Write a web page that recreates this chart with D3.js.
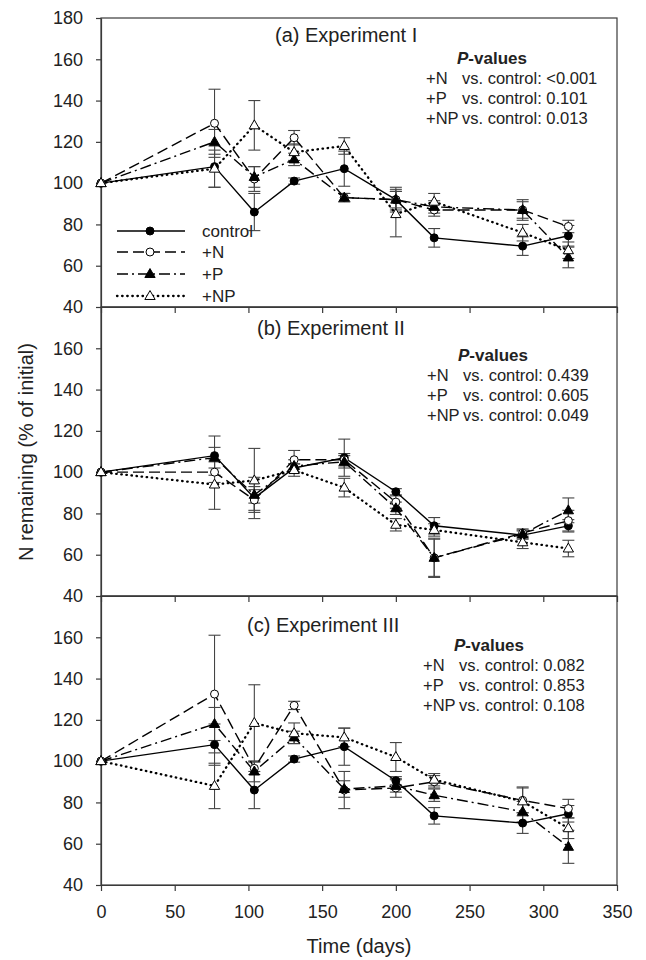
<!DOCTYPE html>
<html><head><meta charset="utf-8">
<script src="https://cdn.jsdelivr.net/npm/d3@7"></script>
<style>body{margin:0;background:#fff}svg{display:block;font-family:"Liberation Sans",Arial,sans-serif}</style>
</head><body><svg id="c" width="646" height="960"></svg>
<script>
// ---------------- data ----------------
const days = [0, 77, 104, 131, 165, 200, 226, 286, 317];
const seriesNames = ["control", "+N", "+P", "+NP"];
const xTicks = [0, 50, 100, 150, 200, 250, 300, 350];
const yTicks = [40, 60, 80, 100, 120, 140, 160, 180];
const panelTitles = ["(a) Experiment I", "(b) Experiment II", "(c) Experiment III"];

// Experiment I
const expI_control = [100, 108, 86, 101, 107, 92, 73.5, 69.5, 74.5];
const expI_N       = [100, 129, 102, 122, 93, 92, 87, 87, 79];
const expI_P       = [100, 120, 103, 111.5, 93, 92, 88.5, 87, 64];
const expI_NP      = [100, 107, 128, 115, 118, 85, 91, 76, 67.5];
const expI_control_err = [0, 10, 9, 1.5, 8.5, 6, 4.5, 4.5, 5];
const expI_N_err       = [0, 16.5, 6, 3.5, 2, 5, 3, 5, 3];
const expI_P_err       = [0, 6, 5, 3, 2, 4, 3, 4, 5];
const expI_NP_err      = [0, 9, 12, 4, 4, 11, 4, 4, 4];

// Experiment II
const expII_control = [100, 108, 87.5, 102, 107, 90.5, 74, 69.5, 74];
const expII_N       = [100, 100, 86.5, 106, 106, 85.5, 58.5, 70.5, 76.5];
const expII_P       = [100, 107, 89, 103, 105, 82.5, 58.5, 70, 81.5];
const expII_NP      = [100, 94, 96, 101, 92.5, 74.5, 72, 66, 63];
const expII_control_err = [0, 9.5, 10, 2, 9, 1.5, 4, 2, 3];
const expII_N_err       = [0, 5, 5, 4.5, 3, 3, 9.5, 2, 5];
const expII_P_err       = [0, 5, 4, 3, 3, 3, 9, 2, 6];
const expII_NP_err      = [0, 12, 15.5, 3, 4.5, 3, 3, 3, 4];

// Experiment III
const expIII_control = [100, 108, 86, 101, 107, 90.5, 73.5, 70, 74.5];
const expIII_N       = [100, 132.5, 96.5, 127, 86, 87, 90, 81, 77];
const expIII_P       = [100, 118, 95, 111.5, 86.5, 88, 83.5, 75.5, 58.5];
const expIII_NP      = [100, 88, 118.5, 113.5, 111.5, 102, 91, 80.5, 67.5];
const expIII_control_err = [0, 10, 9, 1.5, 9, 2, 4, 5, 4];
const expIII_N_err       = [0, 28.5, 3, 2, 9, 4.5, 3, 6, 4.5];
const expIII_P_err       = [0, 8, 5, 3, 4, 3, 3, 5, 8];
const expIII_NP_err      = [0, 11, 18.5, 5, 4.5, 7, 3, 7, 5];

const pValuesI   = ["<0.001", "0.101", "0.013"];
const pValuesII  = ["0.439", "0.605", "0.049"];
const pValuesIII = ["0.082", "0.853", "0.108"];
const pLabels = ["+N", "+P", "+NP"];

// ---------------- layout ----------------
const svg = d3.select("#c");
const left = 101, right = 617, panelH = 289;
const panelTops = [18, 307, 596];
const titlePos = [[275, 42], [257, 335], [247, 632]];
const pvPos = [[426, 64], [427, 361], [423, 651]];
const axisColor = "#3a3a3a";

const x = d3.scaleLinear().domain([0, 350]).range([left, right]);

const styles = [
  {dash: null, width: 1.4, cap: "butt", shape: "circle", fill: "#000"},
  {dash: "11,5", width: 1.4, cap: "butt", shape: "circle", fill: "#fff"},
  {dash: "11,4,2,4", width: 1.4, cap: "butt", shape: "triangle", fill: "#000"},
  {dash: "0.5,4.6", width: 2.3, cap: "round", shape: "triangle", fill: "#fff"}
];

const panels = [
  {vals: [expI_control, expI_N, expI_P, expI_NP], errs: [expI_control_err, expI_N_err, expI_P_err, expI_NP_err], p: pValuesI},
  {vals: [expII_control, expII_N, expII_P, expII_NP], errs: [expII_control_err, expII_N_err, expII_P_err, expII_NP_err], p: pValuesII},
  {vals: [expIII_control, expIII_N, expIII_P, expIII_NP], errs: [expIII_control_err, expIII_N_err, expIII_P_err, expIII_NP_err], p: pValuesIII}
];

function drawMarker(g, shape, fill, cx, cy) {
  if (shape === "circle") {
    g.append("circle").attr("cx", cx).attr("cy", cy).attr("r", 4)
      .attr("fill", fill).attr("stroke", "#000").attr("stroke-width", 1);
  } else {
    g.append("path").attr("d", d3.symbol().type(d3.symbolTriangle).size(46)())
      .attr("transform", `translate(${cx},${cy + 0.5})`)
      .attr("fill", fill).attr("stroke", "#000").attr("stroke-width", 1);
  }
}

panels.forEach((pd, pi) => {
  const top = panelTops[pi], bottom = top + panelH;
  const y = d3.scaleLinear().domain([40, 180]).range([bottom, top]);
  const g = svg.append("g");

  // frame
  g.append("rect").attr("x", left).attr("y", top).attr("width", right - left).attr("height", panelH)
    .attr("fill", "none").attr("stroke", axisColor).attr("stroke-width", 1.2);

  // y axis
  const yt = pi === 0 ? yTicks : yTicks.filter(v => v < 180);
  const ya = g.append("g").attr("transform", `translate(${left},0)`)
    .call(d3.axisLeft(y).tickValues(yt).tickSize(5).tickSizeOuter(0).tickPadding(13));
  ya.select(".domain").attr("stroke", axisColor).attr("stroke-width", 1.2);
  ya.selectAll(".tick line").attr("stroke", axisColor).attr("stroke-width", 1.2);
  ya.selectAll("text").attr("font-size", 18).attr("fill", "#222").attr("font-family", "Liberation Sans, Arial, sans-serif");

  // x axis
  const xa = g.append("g").attr("transform", `translate(0,${bottom})`)
    .call(d3.axisBottom(x).tickValues(xTicks).tickSize(6).tickSizeOuter(0).tickPadding(14));
  xa.select(".domain").attr("stroke", axisColor).attr("stroke-width", 1.2);
  xa.selectAll(".tick line").attr("stroke", axisColor).attr("stroke-width", 1.2);
  xa.selectAll("text").attr("font-size", 18).attr("fill", "#222").attr("font-family", "Liberation Sans, Arial, sans-serif");
  if (pi < 2) xa.selectAll("text").remove();

  // error bars
  pd.vals.forEach((vals, si) => {
    vals.forEach((v, i) => {
      const e = pd.errs[si][i];
      if (!e) return;
      const cx = x(days[i]);
      const eg = g.append("g").attr("stroke", "#444").attr("stroke-width", 1.1);
      eg.append("line").attr("x1", cx).attr("x2", cx).attr("y1", y(v - e)).attr("y2", y(v + e));
      eg.append("line").attr("x1", cx - 6).attr("x2", cx + 6).attr("y1", y(v + e)).attr("y2", y(v + e));
      eg.append("line").attr("x1", cx - 6).attr("x2", cx + 6).attr("y1", y(v - e)).attr("y2", y(v - e));
    });
  });

  // lines
  const line = d3.line().x((d, i) => x(days[i])).y(d => y(d));
  pd.vals.forEach((vals, si) => {
    const s = styles[si];
    g.append("path").attr("d", line(vals)).attr("fill", "none").attr("stroke", "#000")
      .attr("stroke-width", s.width).attr("stroke-dasharray", s.dash).attr("stroke-linecap", s.cap);
  });

  // markers
  pd.vals.forEach((vals, si) => {
    const s = styles[si];
    vals.forEach((v, i) => drawMarker(g, s.shape, s.fill, x(days[i]), y(v)));
  });

  // title
  g.append("text").attr("x", titlePos[pi][0]).attr("y", titlePos[pi][1])
    .attr("font-size", 20).attr("fill", "#222").text(panelTitles[pi]);

  // p-values
  const [px, py] = pvPos[pi];
  const ph = g.append("text").attr("x", px + 31).attr("y", py).attr("font-size", 17)
    .attr("font-weight", "bold").attr("fill", "#222");
  ph.append("tspan").attr("font-style", "italic").text("P");
  ph.append("tspan").text("-values");
  pd.p.forEach((pv, k) => {
    const ly = py + 20 * (k + 1);
    g.append("text").attr("x", px).attr("y", ly).attr("font-size", 16.5).attr("fill", "#222").text(pLabels[k]);
    g.append("text").attr("x", px + 36).attr("y", ly).attr("font-size", 16.5).attr("fill", "#222")
      .text("vs. control: " + pv);
  });

  // legend (panel a)
  if (pi === 0) {
    const rows = [231, 252, 274, 296];
    seriesNames.forEach((nm, si) => {
      const s = styles[si];
      const ly = rows[si];
      g.append("line").attr("x1", 117).attr("x2", 185).attr("y1", ly).attr("y2", ly)
        .attr("stroke", "#000").attr("stroke-width", s.width).attr("stroke-dasharray", s.dash)
        .attr("stroke-linecap", s.cap);
      drawMarker(g, s.shape, s.fill, 150, ly);
      g.append("text").attr("x", 202).attr("y", ly).attr("dy", "0.35em")
        .attr("font-size", 17).attr("fill", "#222").text(nm);
    });
  }
});

// axis titles
svg.append("text").attr("x", (left + right) / 2).attr("y", 953).attr("text-anchor", "middle")
  .attr("font-size", 20).attr("fill", "#222").text("Time (days)");
svg.append("text").attr("transform", "translate(33,452) rotate(-90)").attr("text-anchor", "middle")
  .attr("font-size", 20).attr("fill", "#222").text("N remaining (% of initial)");
</script>
</body></html>
